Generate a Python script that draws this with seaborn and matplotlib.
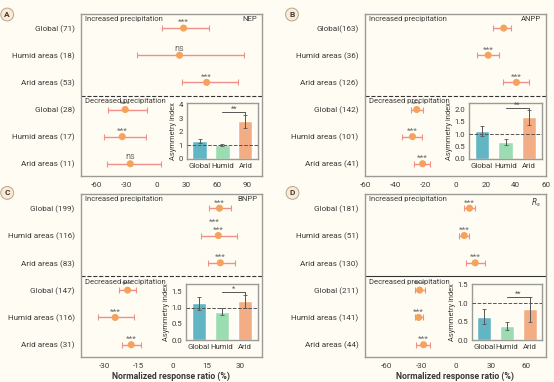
import numpy as np
import pandas as pd
import matplotlib
matplotlib.use("Agg")
import matplotlib.pyplot as plt
import seaborn as sns

sns.set_theme(style="white")
plt.rcParams['font.family'] = ['Roboto', 'DejaVu Sans']

# ---------------- data ----------------
asym_cats = ["Global", "Humid", "Arid"]

A_labels = ["Global (71)", "Humid areas (18)", "Arid areas (53)",
            "Global (28)", "Humid areas (17)", "Arid areas (11)"]
A_mean = [27, 23, 50, -31, -34, -26]
A_low = [6, -19, 25, -48, -52, -49]
A_high = [52, 87, 81, -9, -10, 5]
A_sig = ["***", "ns", "***", "***", "***", "ns"]
A_asym = [1.3, 1.0, 2.75]
A_asym_err = [0.15, 0.08, 0.45]

B_labels = ["Global(163)", "Humid areas (36)", "Arid areas (126)",
            "Global (142)", "Humid areas (101)", "Arid areas (41)"]
B_mean = [32, 21.7, 40.4, -25.7, -28.5, -21.8]
B_low = [25, 14, 31.3, -29.6, -35.5, -27.4]
B_high = [37, 29, 49, -21.5, -22.4, -17]
B_sig = ["", "***", "***", "***", "***", "***"]
B_asym = [1.12, 0.67, 1.68]
B_asym_err = [0.2, 0.12, 0.3]

C_labels = ["Global (199)", "Humid areas (116)", "Arid areas (83)",
            "Global (147)", "Humid areas (116)", "Arid areas (31)"]
C_mean = [20.7, 20.2, 21.1, -19.9, -25.4, -18.3]
C_low = [16.1, 12.5, 15.6, -23.5, -33.1, -22.3]
C_high = [25.6, 28.5, 27.6, -16.1, -17.2, -14.0]
C_sig = ["***", "***", "***", "***", "***", "***"]
C_asym = [1.13, 0.88, 1.2]
C_asym_err = [0.2, 0.12, 0.2]

D_labels = ["Global (181)", "Humid areas (51)", "Arid areas (130)",
            "Global (211)", "Humid areas (141)", "Arid areas (44)"]
D_mean = [11.5, 7, 16.4, -31.2, -32, -27.8]
D_low = [7, 2.7, 8.5, -34.9, -34.9, -34.2]
D_high = [16.6, 11.5, 25, -27, -28.6, -22]
D_sig = ["***", "***", "***", "***", "***", "***"]
D_asym = [0.63, 0.38, 0.83]
D_asym_err = [0.2, 0.1, 0.33]

# ---------------- style ----------------
BG = "#FFFDF3"
SPINE = "#9A9A96"
TXT = "#3A3A3A"
PT = "#F5A25D"
ERR = "#EE9088"
BAR_COLORS = ["#62B6C4", "#9BDDB1", "#F3AD85"]

fig = plt.figure(figsize=(5.54, 3.82), dpi=100, facecolor=BG)

panels = [
    dict(letter="A", name="NEP", labels=A_labels, mean=A_mean, low=A_low, high=A_high,
         sig=A_sig, asym=A_asym, asym_err=A_asym_err,
         pos=[0.1462, 0.5393, 0.3267, 0.4241], xlim=(-75, 105), xticks=[-60, -30, 0, 30, 60, 90],
         inset=[0.3375, 0.5838, 0.1282, 0.1466], iylim=(0, 4.1), iyticks=[0, 1, 2, 3, 4],
         iyfmt="{:.0f}", br=3.43, brs="**", sep="--", xlabel=False, lpos=(0.013, 0.962)),
    dict(letter="B", name="ANPP", labels=B_labels, mean=B_mean, low=B_low, high=B_high,
         sig=B_sig, asym=B_asym, asym_err=B_asym_err,
         pos=[0.6588, 0.5393, 0.3267, 0.4241], xlim=(-60, 60), xticks=[-60, -40, -20, 0, 20, 40, 60],
         inset=[0.8466, 0.5838, 0.1318, 0.1466], iylim=(0, 2.25), iyticks=[0, 0.5, 1, 1.5, 2],
         iyfmt="{:.1f}", br=2.05, brs="**", sep="--", xlabel=False, lpos=(0.527, 0.962)),
    dict(letter="C", name="BNPP", labels=C_labels, mean=C_mean, low=C_low, high=C_high,
         sig=C_sig, asym=C_asym, asym_err=C_asym_err,
         pos=[0.1462, 0.0654, 0.3267, 0.4267], xlim=(-40.5, 39.5), xticks=[-30, -15, 0, 15, 30],
         inset=[0.3357, 0.1099, 0.1300, 0.1466], iylim=(0, 1.73), iyticks=[0, 0.5, 1, 1.5],
         iyfmt="{:.1f}", br=1.48, brs="*", sep="--", xlabel=True, lpos=(0.013, 0.495)),
    dict(letter="D", name="$R_s$", labels=D_labels, mean=D_mean, low=D_low, high=D_high,
         sig=D_sig, asym=D_asym, asym_err=D_asym_err,
         pos=[0.6588, 0.0654, 0.3267, 0.4267], xlim=(-78, 77), xticks=[-60, -30, 0, 30, 60],
         inset=[0.8520, 0.1099, 0.1264, 0.1466], iylim=(0, 1.52), iyticks=[0, 0.5, 1, 1.5],
         iyfmt="{:.1f}", br=1.18, brs="**", sep="-", xlabel=True, lpos=(0.528, 0.495)),
]

for p in panels:
    ax = fig.add_axes(p["pos"])
    ax.set_facecolor(BG)
    ypos = np.arange(6)
    df = pd.DataFrame({"label": p["labels"], "y": ypos, "mean": p["mean"],
                       "low": p["low"], "high": p["high"]})
    ax.errorbar(df["mean"], df["y"],
                xerr=[df["mean"] - df["low"], df["high"] - df["mean"]],
                fmt="none", ecolor=ERR, elinewidth=1.0, capsize=2, capthick=0.8, zorder=2)
    sns.scatterplot(data=df, x="mean", y="y", ax=ax, color=PT, s=26,
                    edgecolor="none", zorder=3, legend=False)
    for yi, (m, s) in enumerate(zip(p["mean"], p["sig"])):
        if s:
            ax.text(m, yi - 0.1, s, ha="center", va="bottom",
                    fontsize=6 if s != "ns" else 6.5, color="#6A6A6A")
    if p["letter"] == "C":
        ax.text(18.6, 0.6, "***", ha="center", va="bottom", fontsize=6, color="#6A6A6A")
    ax.axhline(2.5, color="#333333", lw=0.8, ls=p["sep"], zorder=1)
    ax.set_ylim(5.45, -0.52)
    ax.set_xlim(*p["xlim"])
    ax.set_yticks(ypos)
    ax.set_yticklabels(p["labels"], fontsize=5.9, color=TXT)
    ax.set_xticks(p["xticks"])
    ax.set_xticklabels([str(t) for t in p["xticks"]], fontsize=5.8, color=TXT)
    ax.tick_params(axis="y", length=2.5, width=0.6, color=SPINE, pad=2)
    ax.tick_params(axis="x", length=2.5, width=0.6, color=SPINE, pad=1.5)
    ax.set_ylabel("")
    if p["xlabel"]:
        ax.set_xlabel("Normalized response ratio (%)", fontsize=6.3, color=TXT,
                      fontweight="bold", labelpad=2)
    else:
        ax.set_xlabel("")
    for sp in ax.spines.values():
        sp.set_color(SPINE)
        sp.set_linewidth(1.0)
    ax.text(0.02, 0.99, "Increased precipitation", transform=ax.transAxes,
            fontsize=5.5, color=TXT, ha="left", va="top")
    ax.text(0.02, 0.48, "Decreased precipitation", transform=ax.transAxes,
            fontsize=5.5, color=TXT, ha="left", va="top")
    ax.text(0.975, 0.985, p["name"], transform=ax.transAxes,
            fontsize=5.6, color=TXT, ha="right", va="top")

    # panel letter
    fig.text(p["lpos"][0], p["lpos"][1], p["letter"], fontsize=6, color=TXT,
             ha="center", va="center", fontweight="bold",
             bbox=dict(boxstyle="circle,pad=0.35", fc="#FBEBD6", ec="#B8A58A", lw=0.7))

    # inset
    ia = fig.add_axes(p["inset"])
    ia.set_facecolor(BG)
    bdf = pd.DataFrame({"cat": asym_cats, "val": p["asym"], "err": p["asym_err"]})
    sns.barplot(data=bdf, x="cat", y="val", hue="cat", palette=BAR_COLORS,
                ax=ia, width=0.62, legend=False, errorbar=None, saturation=1)
    ia.errorbar(np.arange(3), bdf["val"], yerr=bdf["err"], fmt="none",
                ecolor="#555555", elinewidth=0.7, capsize=1.2, capthick=0.6, zorder=4)
    ia.axhline(1.0, color="#555555", lw=0.7, ls="--", zorder=5)
    ia.set_ylim(*p["iylim"])
    ia.set_xlim(-0.55, 2.55)
    ia.set_yticks(p["iyticks"])
    ia.set_yticklabels([p["iyfmt"].format(t) for t in p["iyticks"]], fontsize=5.6, color=TXT)
    ia.set_xticks([0, 1, 2])
    ia.set_xticklabels(asym_cats, fontsize=5.6, color=TXT)
    ia.tick_params(axis="both", length=1.8, width=0.5, color=SPINE, pad=1)
    ia.set_xlabel("")
    ia.set_ylabel("Asymmetry index", fontsize=5.4, color=TXT, labelpad=1)
    for sp in ia.spines.values():
        sp.set_color(SPINE)
        sp.set_linewidth(1.0)
    top_arid = p["asym"][2] + p["asym_err"][2]
    ia.plot([1, 2], [p["br"], p["br"]], color="#555555", lw=0.7)
    ia.plot([2, 2], [p["br"], top_arid], color="#555555", lw=0.7)
    ia.text(1.5, p["br"], p["brs"], ha="center", va="bottom", fontsize=5.5, color="#555555")

fig.savefig("out.png", dpi=100, facecolor=BG)
